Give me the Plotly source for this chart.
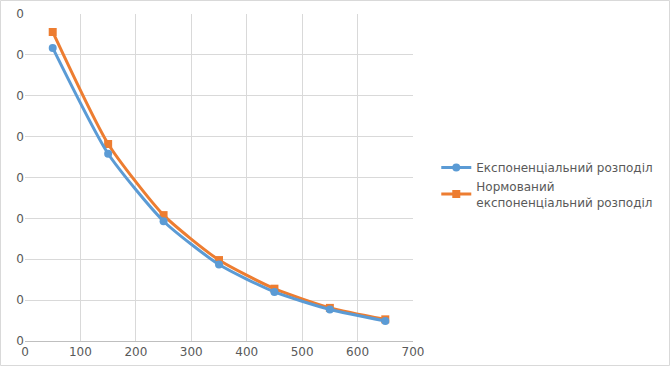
import plotly.graph_objects as go

x_vals = [50, 150, 250, 350, 450, 550, 650]
exp_vals = [0.00717, 0.00458, 0.00293, 0.00187, 0.00120, 0.00077, 0.00049]
norm_vals = [0.00756, 0.00482, 0.00308, 0.00198, 0.00128, 0.00081, 0.00053]
names = ["Експоненціальний розподіл", "Нормований<br>експоненціальний розподіл"]
x_ticks = [0, 100, 200, 300, 400, 500, 600, 700]

blue = "#5B9BD5"
orange = "#ED7D31"

fig = go.Figure()
fig.add_trace(go.Scatter(
    x=x_vals, y=norm_vals, name=names[1], mode="lines+markers",
    line=dict(color=orange, width=3, shape="spline", smoothing=0.6),
    marker=dict(symbol="square", size=8, color=orange),
))
fig.add_trace(go.Scatter(
    x=x_vals, y=exp_vals, name=names[0], mode="lines+markers",
    line=dict(color=blue, width=3, shape="spline", smoothing=0.6),
    marker=dict(symbol="circle", size=8, color=blue),
))

L, R, T, B = 25, 257, 14, 25
W, H = 670, 366
pw, ph = W - L - R, H - T - B

fig.update_layout(
    width=W, height=H,
    margin=dict(l=L, r=R, t=T, b=B, autoexpand=False),
    paper_bgcolor="white", plot_bgcolor="white",
    font=dict(family="DejaVu Sans", size=12, color="#595959"),
    showlegend=True,
    legend=dict(
        x=1.06, y=0.575, xanchor="left", yanchor="top",
        traceorder="reversed", font=dict(size=12, color="#595959"),
        itemwidth=30, tracegroupgap=4,
        bgcolor="rgba(0,0,0,0)",
    ),
    xaxis=dict(
        range=[0, 700], tickvals=x_ticks, showgrid=True, gridcolor="#D9D9D9",
        gridwidth=1, zeroline=False, showline=True, linecolor="#BFBFBF",
        ticks="", tickfont=dict(size=12, color="#595959"), automargin=False,
    ),
    yaxis=dict(
        range=[0, 0.008], dtick=0.001, tickformat=".0f", showgrid=True,
        gridcolor="#D9D9D9", gridwidth=1, zeroline=False, showline=False,
        ticks="", tickfont=dict(size=12, color="#595959"), automargin=False,
    ),
    shapes=[dict(
        type="rect", xref="paper", yref="paper",
        x0=(-L + 0.5) / pw, x1=(W - L - 0.5) / pw,
        y0=(-B + 0.5) / ph, y1=(H - B - 0.5) / ph,
        line=dict(color="#D9D9D9", width=1), layer="below",
    )],
)

fig.write_html(
    "out.html",
    config={"displayModeBar": False},
    post_script="document.body.style.margin='0';document.body.style.overflow='hidden';",
)
